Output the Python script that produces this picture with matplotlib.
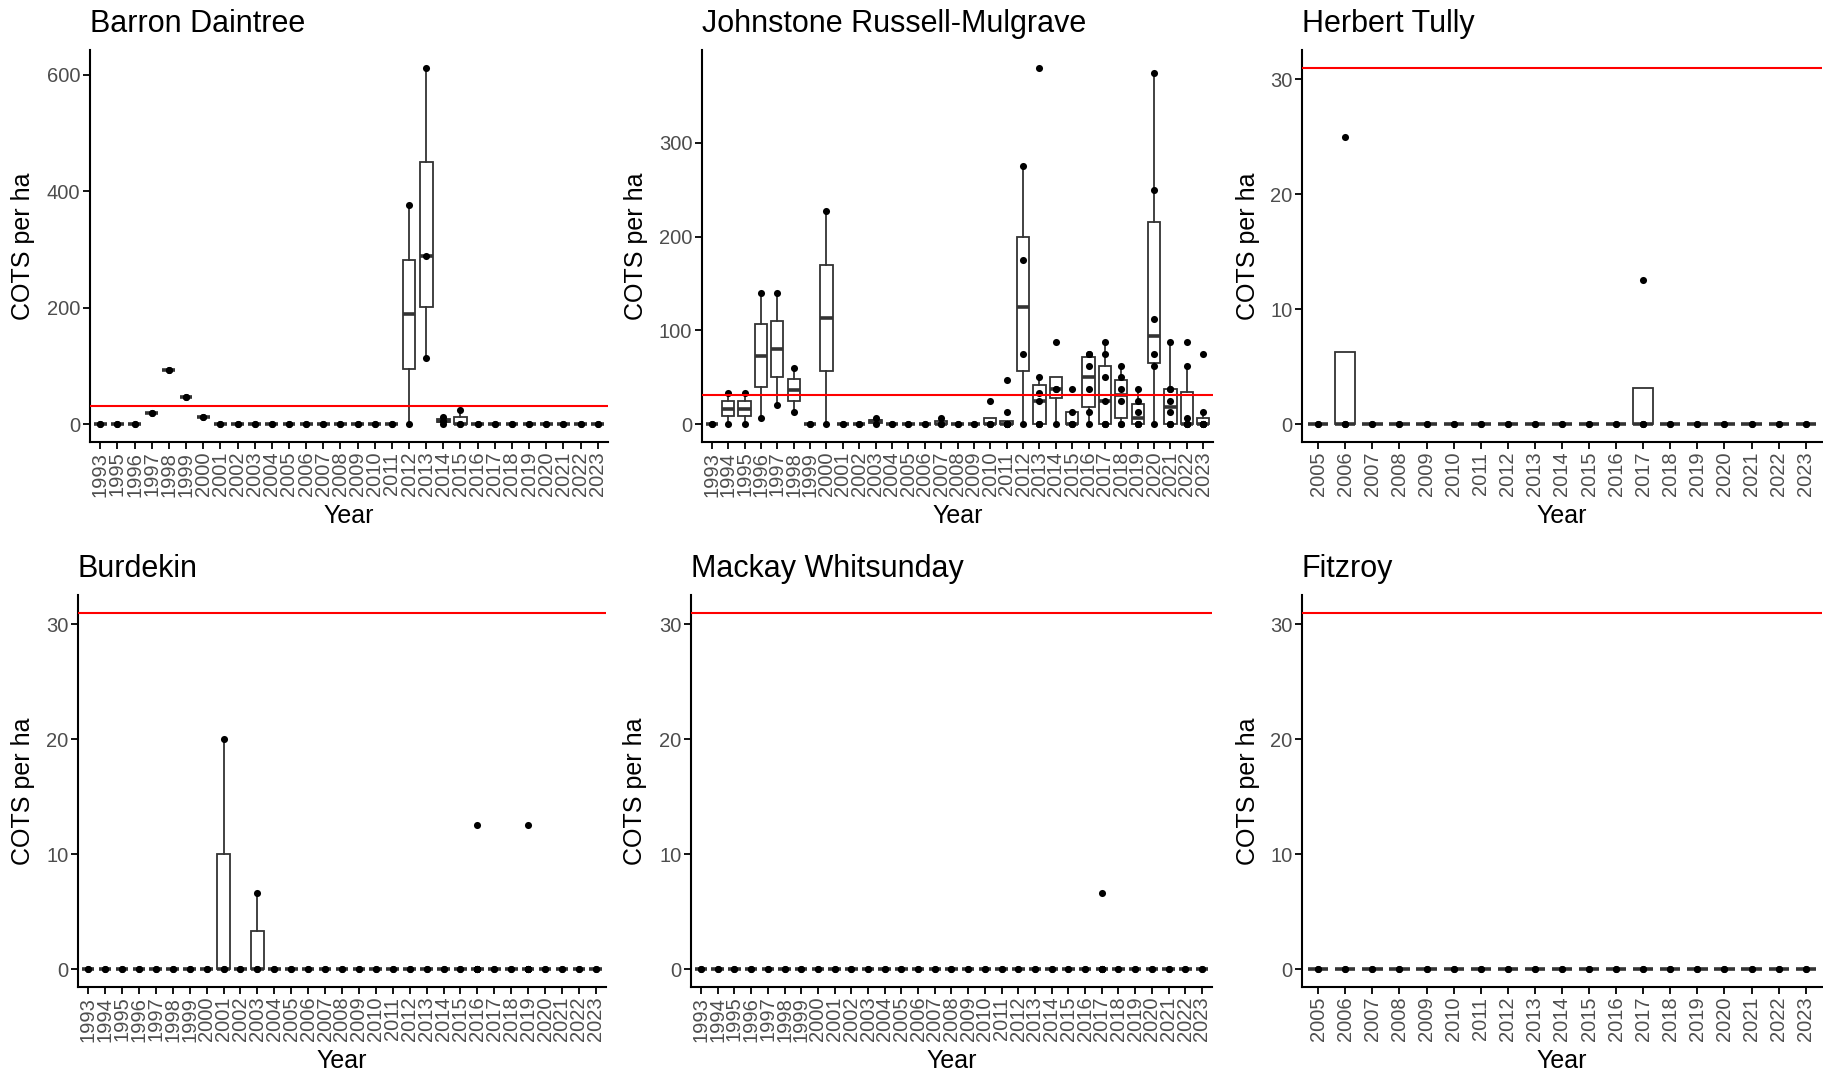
import matplotlib
matplotlib.use("Agg")
import matplotlib.pyplot as plt
import numpy as np

plt.rcParams['font.family'] = ['Liberation Sans', 'DejaVu Sans']

# Threshold density (COTS per ha) shown as a red reference line
THRESHOLD = 31

# ---------------- Barron Daintree ----------------
barron_years = ['1993', '1995', '1996', '1997', '1998', '1999', '2000', '2001',
                '2002', '2003', '2004', '2005', '2006', '2007', '2008', '2009',
                '2010', '2011', '2012', '2013', '2014', '2015', '2016', '2017',
                '2018', '2019', '2020', '2021', '2022', '2023']
barron_values = [
    [0, 0], [0, 0], [0, 0], [20, 20], [93, 93], [46, 46], [12.5, 12.5],
    [0, 0], [0, 0], [0, 0], [0, 0], [0, 0], [0, 0], [0, 0], [0, 0], [0, 0],
    [0, 0], [0, 0],
    [0, 377],
    [113, 288, 612],
    [0, 6.25, 12.5],
    [0, 0, 25],
    [0, 0], [0, 0], [0, 0], [0, 0], [0, 0], [0, 0], [0, 0], [0, 0],
]

# ---------------- Johnstone Russell-Mulgrave ----------------
johnstone_years = ['1993', '1994', '1995', '1996', '1997', '1998', '1999', '2000',
                   '2001', '2002', '2003', '2004', '2005', '2006', '2007', '2008',
                   '2009', '2010', '2011', '2012', '2013', '2014', '2015', '2016',
                   '2017', '2018', '2019', '2020', '2021', '2022', '2023']
johnstone_values = [
    [0, 0],
    [0, 33.33],
    [0, 33.33],
    [6.25, 140],
    [20, 140],
    [12.5, 60],
    [0, 0],
    [0, 227],
    [0, 0],
    [0, 0],
    [0, 6.25],
    [0, 0], [0, 0], [0, 0],
    [0, 0, 6.25],
    [0, 0], [0, 0],
    [0, 0, 0, 25],
    [0, 0, 0, 0, 0, 0, 12.5, 47],
    [0, 75, 175, 275],
    [0, 0, 0, 25, 33.33, 50, 380],
    [0, 37.5, 37.5, 87.5],
    [0, 0, 0, 12.5, 37.5],
    [0, 12.5, 37.5, 62.5, 75, 75],
    [0, 0, 0, 25, 50, 75, 87.5],
    [0, 0, 25, 37.5, 50, 62.5],
    [0, 0, 0, 12.5, 25, 37.5],
    [0, 62.5, 75, 112.5, 250, 375],
    [0, 0, 0, 12.5, 25, 37.5, 37.5, 87.5],
    [0, 0, 0, 0, 6.25, 62.5, 87.5],
    [0, 0, 0, 0, 0, 12.5, 75],
]

# ---------------- Herbert Tully ----------------
herbert_years = ['2005', '2006', '2007', '2008', '2009', '2010', '2011', '2012',
                 '2013', '2014', '2015', '2016', '2017', '2018', '2019', '2020',
                 '2021', '2022', '2023']
herbert_values = [
    [0, 0], [0, 0, 0, 25], [0, 0], [0, 0], [0, 0], [0, 0], [0, 0], [0, 0],
    [0, 0], [0, 0], [0, 0], [0, 0], [0, 0, 0, 12.5], [0, 0], [0, 0], [0, 0],
    [0, 0], [0, 0], [0, 0],
]

# ---------------- Burdekin ----------------
burdekin_years = list(johnstone_years)
burdekin_values = [
    [0, 0], [0, 0], [0, 0], [0, 0], [0, 0], [0, 0], [0, 0], [0, 0],
    [0, 0, 20],
    [0, 0],
    [0, 0, 6.67],
    [0, 0], [0, 0], [0, 0], [0, 0], [0, 0], [0, 0], [0, 0], [0, 0], [0, 0],
    [0, 0], [0, 0], [0, 0],
    [0, 0, 0, 0, 0, 0, 0, 12.5],
    [0, 0], [0, 0],
    [0, 0, 0, 0, 0, 0, 0, 12.5],
    [0, 0], [0, 0], [0, 0], [0, 0],
]

# ---------------- Mackay Whitsunday ----------------
mackay_years = list(johnstone_years)
mackay_values = [
    [0, 0], [0, 0], [0, 0], [0, 0], [0, 0], [0, 0], [0, 0], [0, 0],
    [0, 0], [0, 0], [0, 0], [0, 0], [0, 0], [0, 0], [0, 0], [0, 0],
    [0, 0], [0, 0], [0, 0], [0, 0], [0, 0], [0, 0], [0, 0], [0, 0],
    [0, 0, 0, 0, 0, 6.67],
    [0, 0], [0, 0], [0, 0], [0, 0], [0, 0], [0, 0],
]

# ---------------- Fitzroy ----------------
fitzroy_years = list(herbert_years)
fitzroy_values = [[0, 0] for _ in fitzroy_years]

# ---------------- Figure layout (pixels) ----------------
W, H = 1824, 1071
BOX_COL = '#333333'
TICK_COL = '#4D4D4D'

panels = [
    # title, years, values, yticks, (left, right, top, bottom), ylabel x
    ('Barron Daintree', barron_years, barron_values, [0, 200, 400, 600],
     (90, 608, 50, 442), 23),
    ('Johnstone Russell-Mulgrave', johnstone_years, johnstone_values, [0, 100, 200, 300],
     (702, 1213, 50, 442), 636),
    ('Herbert Tully', herbert_years, herbert_values, [0, 10, 20, 30],
     (1302, 1822, 50, 442), 1248),
    ('Burdekin', burdekin_years, burdekin_values, [0, 10, 20, 30],
     (78, 606, 595, 987), 23),
    ('Mackay Whitsunday', mackay_years, mackay_values, [0, 10, 20, 30],
     (691, 1212, 595, 987), 635),
    ('Fitzroy', fitzroy_years, fitzroy_values, [0, 10, 20, 30],
     (1302, 1822, 595, 987), 1248),
]

fig = plt.figure(figsize=(W / 100, H / 100), dpi=100)
fig.patch.set_facecolor('white')

for title, years, values, yticks, (l, r, t, b), ylab_x in panels:
    ax = fig.add_axes([l / W, 1 - b / H, (r - l) / W, (b - t) / H])
    pos = np.arange(len(years))

    ax.boxplot(values, positions=pos, widths=0.75, whis=1.5,
               showfliers=False, showcaps=False, patch_artist=True,
               boxprops=dict(facecolor='white', edgecolor=BOX_COL, linewidth=1.3),
               medianprops=dict(color=BOX_COL, linewidth=2.6),
               whiskerprops=dict(color=BOX_COL, linewidth=1.3),
               zorder=2)

    for i, v in enumerate(values):
        ax.scatter(np.full(len(v), i), v, s=26, color='black', linewidths=0, zorder=3)

    ax.axhline(THRESHOLD, color='red', linewidth=1.5, zorder=4)

    allv = [x for v in values for x in v] + [THRESHOLD]
    lo, hi = min(allv), max(allv)
    pad = 0.05 * (hi - lo)
    ax.set_ylim(lo - pad, hi + pad)
    ax.set_xlim(-0.6, len(years) - 0.4)

    ax.set_xticks(pos)
    ax.set_xticklabels(years, rotation=90, fontsize=14.5, color=TICK_COL)
    ax.set_yticks(yticks)
    ax.set_yticklabels([str(y) for y in yticks], fontsize=14.5, color=TICK_COL)
    ax.tick_params(axis='both', colors='black', width=1.3, length=5, pad=2)
    for lab in ax.get_xticklabels() + ax.get_yticklabels():
        lab.set_color(TICK_COL)

    for side in ('top', 'right'):
        ax.spines[side].set_visible(False)
    for side in ('left', 'bottom'):
        ax.spines[side].set_linewidth(1.5)
        ax.spines[side].set_color('black')

    ax.set_title(title, loc='left', fontsize=22, pad=13, color='black')

    ax.set_xlabel('Year', fontsize=18, color='black')
    ax.xaxis.label.set_va('center')
    ax.xaxis.set_label_coords(0.5, -74 / (b - t))

    ax.set_ylabel('COTS per ha', fontsize=18, color='black')
    ax.yaxis.label.set_va('center')
    ax.yaxis.set_label_coords((ylab_x - l) / (r - l), 0.5)

fig.savefig('out.png', dpi=100, facecolor='white')
